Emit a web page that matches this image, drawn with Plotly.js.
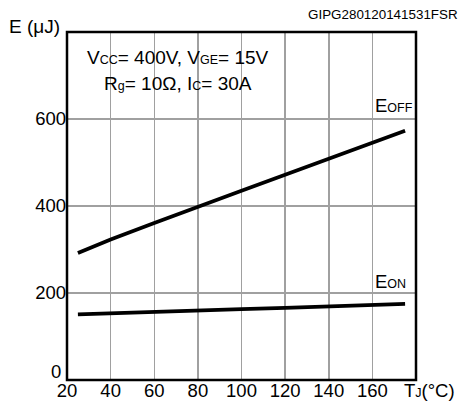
<!DOCTYPE html>
<html>
<head>
<meta charset="utf-8">
<script src="https://cdn.plot.ly/plotly-3.0.1.min.js"></script>
<style>html,body{margin:0;padding:0;background:#fff;}#chart{width:464px;height:403px;}</style>
</head>
<body>
<div id="chart"></div>
<script>
var tj = [25, 40, 60, 80, 100, 120, 140, 160, 175];
var eoff = [292, 323, 361, 399, 435, 472, 508, 544, 573];
var eon = [151, 153, 157, 160, 163, 166, 169, 172, 175];
var xTicks = [20, 40, 60, 80, 100, 120, 140, 160];
var yTicks = [200, 400, 600];

var F = 'Liberation Sans, Arial, sans-serif';
var S = function (t) { return '<span style="font-size:12.5px">' + t + '</span>'; };

var traces = [
  {x: tj, y: eoff, mode: 'lines', line: {color: '#000', width: 3.8}, hoverinfo: 'skip'},
  {x: tj, y: eon, mode: 'lines', line: {color: '#000', width: 3.8}, hoverinfo: 'skip'}
];

var layout = {
  width: 464, height: 403,
  margin: {l: 67, r: 48, t: 32, b: 23},
  paper_bgcolor: '#fff', plot_bgcolor: '#fff',
  showlegend: false,
  font: {family: F, size: 18.5, color: '#000'},
  xaxis: {
    range: [20, 180], tickvals: xTicks, ticktext: xTicks.map(String),
    showgrid: true, gridcolor: '#a0a0a0', gridwidth: 1.5,
    showline: false, ticks: '', zeroline: false, ticklabelstandoff: -3,
    tickfont: {family: F, size: 18.5, color: '#000'}
  },
  yaxis: {
    range: [0, 800], tickvals: yTicks, ticktext: yTicks.map(String),
    showgrid: true, gridcolor: '#a0a0a0', gridwidth: 1.5,
    showline: false, ticks: '', zeroline: false,
    tickfont: {family: F, size: 18.5, color: '#000'}
  },
  shapes: [
    {type: 'rect', xref: 'paper', yref: 'paper', x0: 0, x1: 1, y0: 0, y1: 1,
     line: {color: '#000', width: 2.5}, fillcolor: 'rgba(0,0,0,0)', layer: 'above'}
  ],
  annotations: [
    {xref: 'paper', yref: 'paper', x: -0.012, y: (380 - 371) / 348, xanchor: 'right', yanchor: 'middle', showarrow: false,
     text: '0', font: {family: F, size: 18.5}},
    {xref: 'x', yref: 'paper', x: 71, y: (380 - 58) / 348, xanchor: 'center', yanchor: 'middle', showarrow: false,
     text: 'V' + S('CC') + '= 400V, V' + S('GE') + '= 15V', font: {family: F, size: 19}},
    {xref: 'x', yref: 'paper', x: 71, y: (380 - 83) / 348, xanchor: 'center', yanchor: 'middle', showarrow: false,
     text: 'R' + S('g') + '= 10Ω, I' + S('C') + '= 30A', font: {family: F, size: 19}},
    {xref: 'x', yref: 'paper', x: 160.5, y: (380 - 105) / 348, xanchor: 'left', yanchor: 'middle', showarrow: false,
     text: 'E' + S('OFF'), font: {family: F, size: 18.5}},
    {xref: 'x', yref: 'paper', x: 160.5, y: (380 - 281) / 348, xanchor: 'left', yanchor: 'middle', showarrow: false,
     text: 'E' + S('ON'), font: {family: F, size: 18.5}},
    {xref: 'paper', yref: 'paper', x: (7 - 67) / 349, y: (380 - 27) / 348, xanchor: 'left', yanchor: 'middle', showarrow: false,
     text: 'E (μJ)', font: {family: F, size: 19}},
    {xref: 'paper', yref: 'paper', x: (460 - 67) / 349, y: (380 - 15) / 348, xanchor: 'right', yanchor: 'middle', showarrow: false,
     text: 'GIPG280120141531FSR', font: {family: F, size: 13.4}},
    {xref: 'paper', yref: 'paper', x: (402 - 67) / 349, y: (380 - 390) / 348, xanchor: 'left', yanchor: 'middle', showarrow: false,
     text: 'T' + S('J') + '(°C)', font: {family: F, size: 18.5}}
  ]
};

Plotly.newPlot('chart', traces, layout, {staticPlot: true, displayModeBar: false});
</script>
</body>
</html>
